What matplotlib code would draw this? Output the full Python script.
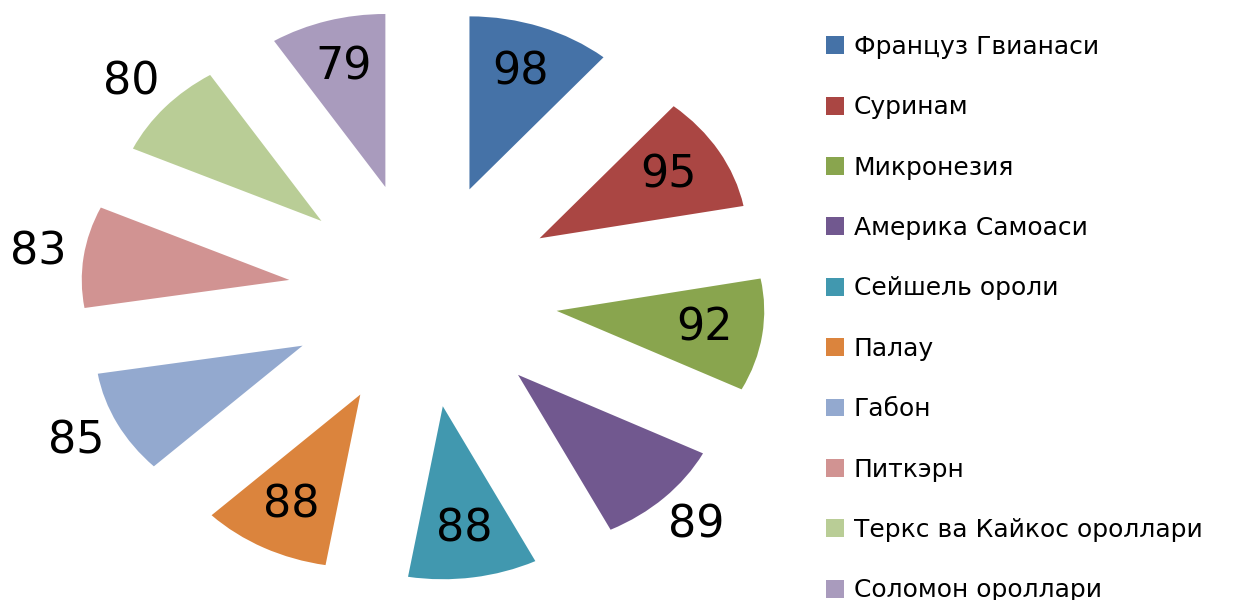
import numpy as np
import matplotlib
matplotlib.use("Agg")
import matplotlib.pyplot as plt

names = ["Француз Гвианаси", "Суринам", "Микронезия", "Америка Самоаси",
         "Сейшель ороли", "Палау", "Габон", "Питкэрн",
         "Теркс ва Кайкос ороллари", "Соломон ороллари"]
values = [98, 95, 92, 89, 88, 88, 85, 83, 80, 79]
colors = ["#4572A7", "#AA4643", "#89A54E", "#71588F", "#4198AF",
          "#DB843D", "#93A9CF", "#D19392", "#B9CD96", "#A99BBD"]
label_outside = [False, False, False, True, False, False, True, True, True, False]

plt.rcParams["font.family"] = ["DejaVu Sans"]

fig = plt.figure(figsize=(12.59, 6), dpi=100)
ax = fig.add_axes([0, 0, 1, 1])

# Excel-style exploded pie, stretched horizontally like the original
wedges, _ = ax.pie(values, colors=colors, startangle=90, counterclock=False,
                   explode=[0.65] * len(values), radius=1,
                   wedgeprops=dict(linewidth=0))
ax.set_aspect("auto")
ax.set_xlim(-2.038, 4.027)
ax.set_ylim(-1.763, 1.705)
ax.axis("off")

for w, v, out in zip(wedges, values, label_outside):
    mid = np.deg2rad((w.theta1 + w.theta2) / 2)
    dist = 1.87 if out else 1.37
    ax.text(dist * np.cos(mid), dist * np.sin(mid), str(v),
            ha="center", va="center", fontsize=32, color="black")

ax.legend(wedges, names, loc="upper left", bbox_to_anchor=(826 / 1259, 1 - 35 / 600),
          frameon=False, fontsize=18, handlelength=0.72, handleheight=0.72,
          handletextpad=0.4, labelspacing=1.455, borderpad=0, borderaxespad=0)

fig.savefig("out.png", dpi=100)
